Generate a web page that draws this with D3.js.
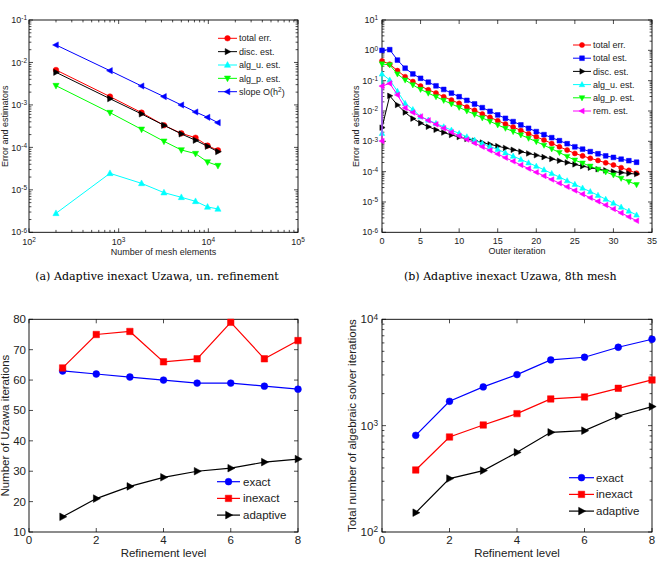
<!DOCTYPE html>
<html><head><meta charset="utf-8">
<script src="https://cdn.jsdelivr.net/npm/d3@7"></script>
<style>body{margin:0;background:#fff}</style>
</head><body>
<svg id="c" width="662" height="563" xmlns="http://www.w3.org/2000/svg"></svg>
<script>
// ---------------- DATA ----------------
// (a) uniform refinement
const meshElements = [200, 800, 1800, 3200, 5000, 7200, 9800, 12800];
const aTotalErr = [6.65e-3, 1.57e-3, 6.58e-4, 3.31e-4, 2.14e-4, 1.69e-4, 1.10e-4, 8.53e-5];
const aDiscEst  = [5.86e-3, 1.40e-3, 6.12e-4, 3.31e-4, 2.07e-4, 1.47e-4, 1.06e-4, 7.94e-5];
const aAlgUEst  = [2.80e-6, 2.45e-5, 1.42e-5, 8.60e-6, 6.67e-6, 5.37e-6, 3.95e-6, 3.55e-6];
const aAlgPEst  = [2.84e-3, 6.58e-4, 2.66e-4, 1.39e-4, 8.69e-5, 7.12e-5, 4.53e-5, 3.71e-5];
const aSlope    = [2.58e-2, 6.40e-3, 2.79e-3, 1.57e-3, 9.96e-4, 6.82e-4, 5.11e-4, 3.82e-4];
const aLegend = ["total err.", "disc. est.", "alg_u. est.", "alg_p. est.", "slope O(h"];

// (b) 8th mesh, outer iterations
const outerIter = [0,1,2,3,4,5,6,7,8,9,10,11,12,13,14,15,16,17,18,19,20,21,22,23,24,25,26,27,28,29,30,31,32,33];
const bTotalErr = [0.447,0.347,0.214,0.135,0.0933,0.0661,0.0501,0.0389,0.0295,0.0229,0.0178,0.0135,0.0105,0.00794,0.00617,0.00479,0.00372,0.00295,0.00229,0.00178,0.00141,0.00110,0.000851,0.000661,0.000513,0.000398,0.000331,0.000275,0.000234,0.000195,0.000166,0.000135,0.000110,8.91e-5];
const bTotalEst = [1.0,1.05,0.479,0.257,0.166,0.120,0.0891,0.0676,0.0513,0.0389,0.0295,0.0224,0.0170,0.0129,0.00977,0.00741,0.00575,0.00447,0.00347,0.00269,0.00209,0.00166,0.00132,0.00105,0.000832,0.000661,0.000550,0.000457,0.000389,0.000331,0.000295,0.000257,0.000229,0.000204];
const bDiscEst  = [0.00282,0.0316,0.0158,0.00891,0.00562,0.00398,0.00302,0.00240,0.00195,0.00162,0.00138,0.00120,0.00105,0.000912,0.000794,0.000692,0.000603,0.000525,0.000457,0.000398,0.000347,0.000302,0.000263,0.000229,0.000200,0.000174,0.000151,0.000135,0.000120,0.000110,0.000100,9.33e-5,8.71e-5,8.32e-5];
const bAlgUStart = 0.00182;
const bAlgUEst  = [0.166,0.105,0.0447,0.0178,0.0112,0.00646,0.00501,0.00389,0.00302,0.00234,0.00182,0.00141,0.00110,0.000851,0.000676,0.000537,0.000417,0.000324,0.000251,0.000195,0.000151,0.000115,8.71e-5,6.61e-5,5.01e-5,3.80e-5,2.88e-5,2.19e-5,1.66e-5,1.23e-5,9.12e-6,6.76e-6,5.01e-6,3.72e-6];
const bAlgPEst  = [0.355,0.331,0.166,0.105,0.0724,0.0513,0.0389,0.0295,0.0224,0.0170,0.0132,0.0100,0.00776,0.00589,0.00457,0.00347,0.00269,0.00209,0.00162,0.00126,0.000977,0.000741,0.000562,0.000427,0.000316,0.000240,0.000191,0.000151,0.000120,9.77e-5,7.76e-5,6.03e-5,4.68e-5,3.72e-5];
const bRemStart = 0.00102;
const bRemEst   = [0.0661,0.0813,0.0339,0.0126,0.00891,0.00661,0.00490,0.00363,0.00269,0.00200,0.00151,0.00115,0.000871,0.000661,0.000501,0.000380,0.000288,0.000219,0.000166,0.000126,9.55e-5,7.24e-5,5.50e-5,4.17e-5,3.16e-5,2.40e-5,1.82e-5,1.38e-5,1.05e-5,7.94e-6,5.89e-6,4.37e-6,3.24e-6,2.40e-6];
const bLegend = ["total err.", "total est.", "disc. est.", "alg_u. est.", "alg_p. est.", "rem. est."];

// (c) Uzawa iterations, (d) algebraic solver iterations
const refinementLevel = [1, 2, 3, 4, 5, 6, 7, 8];
const cExact    = [63, 62, 61, 60, 59, 59, 58, 57];
const cInexact  = [64, 75, 76, 66, 67, 79, 67, 73];
const cAdaptive = [15, 21, 25, 28, 30, 31, 33, 34];
const dExact    = [811, 1694, 2313, 3020, 4150, 4397, 5457, 6488];
const dInexact  = [383, 782, 1014, 1297, 1783, 1862, 2245, 2691];
const dAdaptive = [152, 318, 378, 561, 865, 897, 1233, 1510];
const cdLegend = ["exact", "inexact", "adaptive"];

// tick values
const aXTicks = [1e2, 1e3, 1e4, 1e5];
const aYTicks = [1e-6, 1e-5, 1e-4, 1e-3, 1e-2, 1e-1];
const bXTicks = [0, 5, 10, 15, 20, 25, 30, 35];
const bYTicks = [1e-6, 1e-5, 1e-4, 1e-3, 1e-2, 1e-1, 1e0, 1e1];
const cXTicks = [0, 2, 4, 6, 8];
const cYTicks = [10, 20, 30, 40, 50, 60, 70, 80];
const dYTicks = [1e2, 1e3, 1e4];

// ---------------- DRAWING ----------------
const svg = d3.select('#c');
const SANS = "'Liberation Sans', Arial, Helvetica, sans-serif";
const SERIF = "'DejaVu Serif', 'Liberation Serif', serif";

function markerPath(type, s) {
  switch (type) {
    case 's': return `M${-s*0.85},${-s*0.85}H${s*0.85}V${s*0.85}H${-s*0.85}Z`;
    case '^': return `M0,${-s*1.1}L${s},${s*0.75}L${-s},${s*0.75}Z`;
    case 'v': return `M0,${s*1.1}L${s},${-s*0.75}L${-s},${-s*0.75}Z`;
    case '>': return `M${s*1.1},0L${-s*0.75},${-s}L${-s*0.75},${s}Z`;
    case '<': return `M${-s*1.1},0L${s*0.75},${-s}L${s*0.75},${s}Z`;
  }
}
function drawMarker(g, type, cx, cy, s, color) {
  if (type === 'o') g.append('circle').attr('cx', cx).attr('cy', cy).attr('r', s*0.9).attr('fill', color).attr('stroke', color).attr('stroke-width', 0.5);
  else g.append('path').attr('d', markerPath(type, s)).attr('transform', `translate(${cx},${cy})`).attr('fill', color).attr('stroke', color).attr('stroke-width', 0.5);
}
function expLabel(sel, v) {
  const e = Math.round(Math.log10(v));
  sel.text('10');
  sel.append('tspan').attr('dy', '-0.45em').attr('font-size', '0.72em').text(String(e));
}

function panel(c) {
  const g = svg.append('g');
  const x = (c.xlog ? d3.scaleLog() : d3.scaleLinear()).domain(c.xdom).range([c.l, c.r]);
  const y = (c.ylog ? d3.scaleLog() : d3.scaleLinear()).domain(c.ydom).range([c.b, c.t]);
  const clipId = 'clip' + c.id;
  svg.append('clipPath').attr('id', clipId).append('rect')
    .attr('x', c.l - 6).attr('y', c.t - 6).attr('width', c.r - c.l + 12).attr('height', c.b - c.t + 12);

  // ticks
  const tk = g.append('g').attr('stroke', '#000').attr('stroke-width', 0.7);
  const L = c.tickLen, Lm = c.tickLen * 0.6;
  c.xticks.forEach(v => {
    const px = x(v);
    tk.append('line').attr('x1', px).attr('x2', px).attr('y1', c.b).attr('y2', c.b - L);
    tk.append('line').attr('x1', px).attr('x2', px).attr('y1', c.t).attr('y2', c.t + L);
  });
  c.yticks.forEach(v => {
    const py = y(v);
    tk.append('line').attr('y1', py).attr('y2', py).attr('x1', c.l).attr('x2', c.l + L);
    tk.append('line').attr('y1', py).attr('y2', py).attr('x1', c.r).attr('x2', c.r - L);
  });
  if (c.xlog) {
    for (let i = 0; i < c.xticks.length - 1; i++) for (let m = 2; m <= 9; m++) {
      const px = x(c.xticks[i] * m);
      tk.append('line').attr('x1', px).attr('x2', px).attr('y1', c.b).attr('y2', c.b - Lm);
      tk.append('line').attr('x1', px).attr('x2', px).attr('y1', c.t).attr('y2', c.t + Lm);
    }
  }
  if (c.ylog) {
    for (let i = 0; i < c.yticks.length - 1; i++) for (let m = 2; m <= 9; m++) {
      const py = y(c.yticks[i] * m);
      tk.append('line').attr('y1', py).attr('y2', py).attr('x1', c.l).attr('x2', c.l + Lm);
      tk.append('line').attr('y1', py).attr('y2', py).attr('x1', c.r).attr('x2', c.r - Lm);
    }
  }
  // frame
  g.append('rect').attr('x', c.l).attr('y', c.t).attr('width', c.r - c.l).attr('height', c.b - c.t)
    .attr('fill', 'none').attr('stroke', '#000').attr('stroke-width', 0.9);

  // tick labels
  const tl = g.append('g').attr('font-family', SANS).attr('font-size', c.fs).attr('fill', '#222');
  c.xticks.forEach(v => {
    const t = tl.append('text').attr('x', x(v)).attr('y', c.xtlY).attr('text-anchor', 'middle');
    if (c.xlog) expLabel(t, v); else t.text(String(v));
  });
  c.yticks.forEach(v => {
    const t = tl.append('text').attr('x', c.l - c.ytlGap).attr('y', y(v) + c.fs * 0.35).attr('text-anchor', 'end');
    if (c.ylog) expLabel(t, v); else t.text(String(v));
  });
  // axis labels
  tl.append('text').attr('x', (c.l + c.r) / 2).attr('y', c.xlabY).attr('text-anchor', 'middle').text(c.xlabel);
  tl.append('text').attr('transform', `translate(${c.ylabX},${(c.t + c.b) / 2}) rotate(-90)`)
    .attr('text-anchor', 'middle').text(c.ylabel);

  // series
  const sg = g.append('g').attr('clip-path', `url(#${clipId})`);
  c.series.forEach(s => {
    sg.append('path').datum(s.pts).attr('fill', 'none').attr('stroke', s.color).attr('stroke-width', c.lw)
      .attr('d', d3.line().x(d => x(d[0])).y(d => y(d[1])));
    s.pts.forEach(d => drawMarker(sg, s.marker, x(d[0]), y(d[1]), c.ms, s.color));
  });

  // legend
  const lg = g.append('g').attr('font-family', SANS).attr('font-size', c.lfs).attr('fill', '#222');
  c.series.forEach((s, i) => {
    const yy = c.leg.y + i * c.leg.dy;
    lg.append('line').attr('x1', c.leg.x1).attr('x2', c.leg.x2).attr('y1', yy).attr('y2', yy)
      .attr('stroke', s.color).attr('stroke-width', c.lw);
    drawMarker(lg, s.marker, (c.leg.x1 + c.leg.x2) / 2, yy, c.ms, s.color);
    const t = lg.append('text').attr('x', c.leg.tx).attr('y', yy + c.lfs * 0.35).text(s.name);
    if (s.sup) { t.append('tspan').attr('dy', '-0.45em').attr('font-size', '0.72em').text(s.sup);
                 t.append('tspan').attr('dy', '0.45em').text(')'); }
  });
}

const zip = (xs, ys) => ys.map((v, i) => [xs[i], v]);

// (a)
panel({
  id: 'a', l: 29, r: 298, t: 20, b: 232.3, xlog: true, ylog: true,
  xdom: [1e2, 1e5], ydom: [1e-6, 1e-1], xticks: aXTicks, yticks: aYTicks,
  tickLen: 4, fs: 9, lfs: 9, lw: 1, ms: 3.1,
  xtlY: 245, ytlGap: 2, xlabY: 255, ylabX: 7.5,
  xlabel: 'Number of mesh elements', ylabel: 'Error and estimators',
  leg: { x1: 218, x2: 237, tx: 239, y: 38.3, dy: 13.35 },
  series: [
    { name: aLegend[0], color: '#ff0000', marker: 'o', pts: zip(meshElements, aTotalErr) },
    { name: aLegend[1], color: '#000000', marker: '>', pts: zip(meshElements, aDiscEst) },
    { name: aLegend[2], color: '#00ffff', marker: '^', pts: zip(meshElements, aAlgUEst) },
    { name: aLegend[3], color: '#00ff00', marker: 'v', pts: zip(meshElements, aAlgPEst) },
    { name: aLegend[4], color: '#0000ff', marker: '<', pts: zip(meshElements, aSlope), sup: '2' }
  ]
});

// (b)
panel({
  id: 'b', l: 382, r: 652, t: 20, b: 232.3, xlog: false, ylog: true,
  xdom: [0, 35], ydom: [1e-6, 1e1], xticks: bXTicks, yticks: bYTicks,
  tickLen: 4, fs: 9, lfs: 9, lw: 1, ms: 2.8,
  xtlY: 243.5, ytlGap: 4, xlabY: 253.5, ylabX: 359,
  xlabel: 'Outer iteration', ylabel: 'Error and estimators',
  leg: { x1: 573, x2: 591, tx: 593, y: 45, dy: 13.2 },
  series: [
    { name: bLegend[0], color: '#ff0000', marker: 'o', pts: zip(outerIter, bTotalErr) },
    { name: bLegend[1], color: '#0000ff', marker: 's', pts: zip(outerIter, bTotalEst) },
    { name: bLegend[2], color: '#000000', marker: '>', pts: zip(outerIter, bDiscEst) },
    { name: bLegend[3], color: '#00ffff', marker: '^', pts: [[0, bAlgUStart]].concat(zip(outerIter, bAlgUEst)) },
    { name: bLegend[4], color: '#00ff00', marker: 'v', pts: zip(outerIter, bAlgPEst) },
    { name: bLegend[5], color: '#ff00ff', marker: '<', pts: [[0, bRemStart]].concat(zip(outerIter, bRemEst)) }
  ]
});

// (c)
panel({
  id: 'c', l: 29, r: 298, t: 319.3, b: 532, xlog: false, ylog: false,
  xdom: [0, 8], ydom: [10, 80], xticks: cXTicks, yticks: cYTicks,
  tickLen: 4, fs: 11.5, lfs: 11.5, lw: 1.2, ms: 3.8,
  xtlY: 544, ytlGap: 3, xlabY: 556.5, ylabX: 8.7,
  xlabel: 'Refinement level', ylabel: 'Number of Uzawa iterations',
  leg: { x1: 217, x2: 240, tx: 243, y: 481.7, dy: 16.7 },
  series: [
    { name: cdLegend[0], color: '#0000ff', marker: 'o', pts: zip(refinementLevel, cExact) },
    { name: cdLegend[1], color: '#ff0000', marker: 's', pts: zip(refinementLevel, cInexact) },
    { name: cdLegend[2], color: '#000000', marker: '>', pts: zip(refinementLevel, cAdaptive) }
  ]
});

// (d)
panel({
  id: 'd', l: 382, r: 652, t: 319.3, b: 532, xlog: false, ylog: true,
  xdom: [0, 8], ydom: [1e2, 1e4], xticks: cXTicks, yticks: dYTicks,
  tickLen: 4, fs: 11.5, lfs: 11.5, lw: 1.2, ms: 3.8,
  xtlY: 544, ytlGap: 4, xlabY: 556.5, ylabX: 356,
  xlabel: 'Refinement level', ylabel: 'Total number of algebraic solver iterations',
  leg: { x1: 569, x2: 594, tx: 596, y: 477.7, dy: 16.7 },
  series: [
    { name: cdLegend[0], color: '#0000ff', marker: 'o', pts: zip(refinementLevel, dExact) },
    { name: cdLegend[1], color: '#ff0000', marker: 's', pts: zip(refinementLevel, dInexact) },
    { name: cdLegend[2], color: '#000000', marker: '>', pts: zip(refinementLevel, dAdaptive) }
  ]
});

// captions
function caption(txt, cx, yb, width) {
  const t = svg.append('text').attr('x', cx).attr('y', yb).attr('text-anchor', 'middle')
    .attr('font-family', SERIF).attr('font-size', 10).attr('fill', '#000').text(txt);
  const w = t.node().getComputedTextLength();
  if (w > 0) t.attr('font-size', 10 * width / w);
}
caption('(a) Adaptive inexact Uzawa, un. refinement', 157, 279.5, 244);
caption('(b) Adaptive inexact Uzawa, 8th mesh', 510.3, 279.5, 213);
</script>
</body></html>
